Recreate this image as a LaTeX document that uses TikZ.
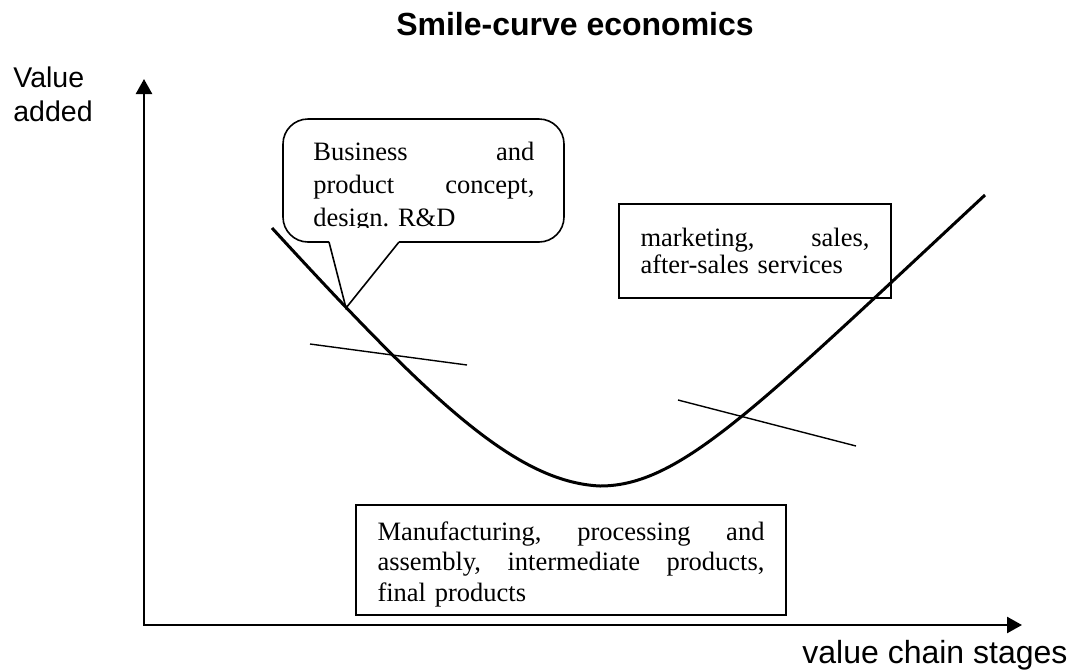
\documentclass[tikz,border=0pt]{standalone}
\usepackage{fontspec}
\setmainfont{Liberation Serif}
\newfontfamily\arialfont{Liberation Sans}
\usetikzlibrary{arrows.meta}
\tikzset{
    >={Triangle[length=7.5pt, width=8pt]}, % filled heads on the axes
    styleAxis/.style={line width=1.25pt}, % the two axes
    styleCurve/.style={line width=1.5pt}, % the smile itself
    styleThin/.style={line width=0.7pt}, % the two crossing strokes
    styleSerif/.style={font=\fontsize{13.25pt}{#1}\selectfont}, % box text, #1 = line pitch
    styleBox/.style={draw, line width=1pt, anchor=north west, inner xsep=10.75pt, align=left},
}

\begin{document}
\begin{tikzpicture}[
                                x=0.5pt, y=-0.5pt,
                                styleSans/.style={font={\arialfont\fontsize{#1}{17pt}\selectfont}, inner sep=0pt},
                                styleTitle/.style={font={\arialfont\bfseries\fontsize{16pt}{19pt}\selectfont}, inner sep=0pt},
                            ]
                            \useasboundingbox (0,0) rectangle (1071,670);
                            \coordinate (origin) at (144,625);
                            \coordinate (yTop) at (144,79);
                            \coordinate (xEnd) at (1022,625);
                            \coordinate (tip) at (346,308);
                            \node[styleTitle, anchor=base] (title) at (575,35) {Smile-curve economics};
                            \node[styleSans=14.25pt, anchor=north west, align=left] (yLab) at (13,66.5) {Value\\added};
                            \node[styleSans=16pt, anchor=base west] (xLab) at (802,663) {value chain stages};
                            \draw[styleAxis, <->] (yTop) -- (origin) -- (xEnd);
                            \draw[styleCurve] (272,228) .. controls (430,400) and (515,482) .. (600,486)
                                .. controls (680,486) and (755,409) .. (985,195);
                            \draw[styleThin] (310,344) -- (467,365);
                            \draw[styleThin] (678,400) -- (856,446);
                            \draw[line width=0.8pt, rounded corners=12.5pt] (329,242) -- (283,242) -- (283,119)
                                -- (564,119) -- (564,242) -- (399,242);
                            \draw[line width=0.8pt] (329,242) -- (tip) -- (399,242);
                            \begin{scope}
                            \clip (283,119) rectangle (564,227);
                            \node[styleSerif=16.5pt, anchor=north west, inner sep=0pt, text width=110.5pt, align=left] (concept) at (313,142)
                                {Business\hfill and\\ product\hfill concept,\\ design.\ R\&D};
                            \end{scope}
                            \node[styleBox, styleSerif=12pt, text width=114.5pt, inner ysep=12.25pt] (mkt) at (618,203)
                                {marketing,\hfill sales,\\ after-sales services};
                            \node[styleBox, styleSerif=15.25pt, text width=193.5pt, inner ysep=4pt] (mfg) at (355,504)
                                {\rule{0pt}{13.5pt}Manufacturing,\hfill processing\hfill and\\ assembly,\hfill intermediate\hfill products,\\ final products};
                        \end{tikzpicture}
\end{document}
